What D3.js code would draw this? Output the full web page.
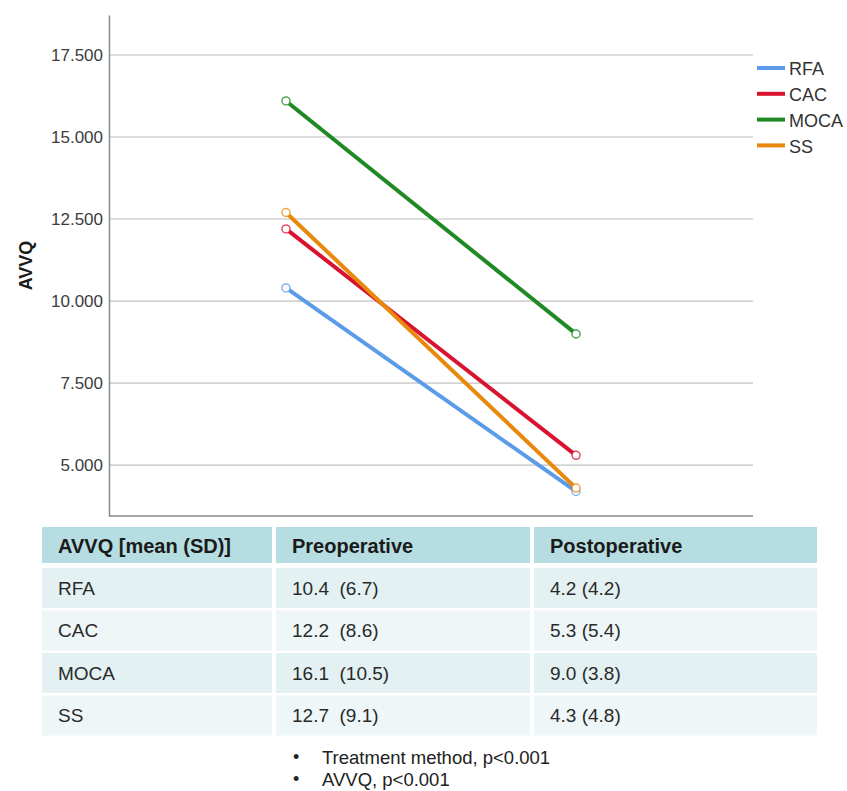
<!DOCTYPE html>
<html>
<head>
<meta charset="utf-8">
<script src="https://cdn.jsdelivr.net/npm/d3@7"></script>
<style>
  body { margin: 0; background: #fff; }
  svg { display: block; }
</style>
</head>
<body>
<div id="chart-container"></div>
<script>
// data
const groups = ["RFA", "CAC", "MOCA", "SS"];
const timepoints = ["Preoperative", "Postoperative"];
const preMeans = [10.4, 12.2, 16.1, 12.7];
const postMeans = [4.2, 5.3, 9.0, 4.3];
const preSD = [6.7, 8.6, 10.5, 9.1];
const postSD = [4.2, 5.4, 3.8, 4.8];
const yTicks = [5, 7.5, 10, 12.5, 15, 17.5];
const colors = ["#5b9be8", "#d9122f", "#1f8a24", "#e8890c"];
const notes = ["Treatment method, p<0.001", "AVVQ, p<0.001"];

const width = 847, height = 791;
const svg = d3.select("#chart-container").append("svg")
  .attr("width", width).attr("height", height);

const plot = { left: 109, right: 753, top: 15, bottom: 516 };
const axisFont = "'Liberation Sans', Arial, sans-serif";

const x = d3.scalePoint().domain(timepoints)
  .range([plot.left, plot.right]).padding(0.61);
const y = d3.scaleLinear().domain([3.45, 18.72]).range([plot.bottom, plot.top]);

// gridlines
svg.append("g").selectAll("line").data(yTicks).join("line")
  .attr("x1", plot.left).attr("x2", plot.right)
  .attr("y1", d => y(d)).attr("y2", d => y(d))
  .attr("stroke", "#d3d3d3").attr("stroke-width", 1.6);

// y axis
const yAxis = svg.append("g").attr("transform", `translate(${plot.left},0)`)
  .call(d3.axisLeft(y).tickValues(yTicks).tickFormat(d3.format(".3f")).tickSize(0).tickPadding(6));
yAxis.select(".domain").attr("stroke", "#8a8a8a").attr("stroke-width", 1.5);
yAxis.selectAll("text")
  .style("font-family", axisFont)
  .style("font-size", "17px").attr("fill", "#3c3c3c");

// bottom line
svg.append("line")
  .attr("x1", plot.left).attr("x2", plot.right)
  .attr("y1", plot.bottom).attr("y2", plot.bottom)
  .attr("stroke", "#8a8a8a").attr("stroke-width", 1.5);

svg.append("text")
  .attr("transform", `translate(32,${(plot.top + plot.bottom) / 2}) rotate(-90)`)
  .attr("text-anchor", "middle")
  .style("font-family", axisFont)
  .style("font-size", "18px").style("font-weight", "bold").attr("fill", "#1a1a1a")
  .text("AVVQ");

// lines
const series = groups.map((g, i) => ({
  name: g, color: colors[i],
  values: [{ t: timepoints[0], v: preMeans[i] }, { t: timepoints[1], v: postMeans[i] }]
}));
const line = d3.line().x(d => x(d.t)).y(d => y(d.v));

const sg = svg.append("g").selectAll("g").data(series).join("g");
sg.append("path")
  .attr("d", d => line(d.values))
  .attr("fill", "none").attr("stroke", d => d.color).attr("stroke-width", 4);
sg.selectAll("circle").data(d => d.values.map(v => ({ ...v, color: d.color }))).join("circle")
  .attr("cx", d => x(d.t)).attr("cy", d => y(d.v)).attr("r", 4)
  .attr("fill", "#fff").attr("stroke", d => d.color).attr("stroke-width", 1.5)
  .attr("stroke-opacity", 0.75);

// legend
const leg = svg.append("g").attr("transform", "translate(757,68)");
const li = leg.selectAll("g").data(series).join("g")
  .attr("transform", (d, i) => `translate(0,${i * 25.8})`);
li.append("line").attr("x1", 0).attr("x2", 28).attr("y1", 0).attr("y2", 0)
  .attr("stroke", d => d.color).attr("stroke-width", 4);
li.append("text").attr("x", 32).attr("y", 1).attr("dy", "0.36em")
  .style("font-family", axisFont)
  .style("font-size", "18px").attr("fill", "#333")
  .text(d => d.name);

// table
const colX = [42, 276, 534, 817];
const tableFont = "'Liberation Sans', Arial, sans-serif";
const header = ["AVVQ [mean (SD)]", "Preoperative", "Postoperative"];
const tbl = svg.append("g");
tbl.selectAll("rect.h").data(header).join("rect").attr("class", "h")
  .attr("x", (d, i) => colX[i]).attr("y", 527)
  .attr("width", (d, i) => colX[i + 1] - colX[i] - (i < 2 ? 4 : 0)).attr("height", 36)
  .attr("fill", "#b6dde1");
tbl.selectAll("text.h").data(header).join("text").attr("class", "h")
  .attr("x", (d, i) => colX[i] + 16).attr("y", 546).attr("dy", "0.36em")
  .style("font-family", tableFont).style("font-size", "20px").style("font-weight", "bold")
  .attr("fill", "#1a1a1a").text(d => d);

const rows = groups.map((g, i) => [g,
  `${preMeans[i].toFixed(1)}  (${preSD[i].toFixed(1)})`,
  `${postMeans[i].toFixed(1)} (${postSD[i].toFixed(1)})`]);
const rowG = tbl.selectAll("g.r").data(rows).join("g").attr("class", "r")
  .attr("transform", (d, i) => `translate(0,${568 + i * 42.5})`);
rowG.each(function (r, ri) {
  const g = d3.select(this);
  g.selectAll("rect").data(r).join("rect")
    .attr("x", (d, i) => colX[i]).attr("y", 0)
    .attr("width", (d, i) => colX[i + 1] - colX[i] - (i < 2 ? 4 : 0)).attr("height", 40)
    .attr("fill", ri % 2 === 0 ? "#e4f1f2" : "#eff6f7");
  g.selectAll("text").data(r).join("text")
    .attr("x", (d, i) => colX[i] + 16).attr("y", 20).attr("dy", "0.36em")
    .style("font-family", tableFont).style("font-size", "19px").style("white-space", "pre")
    .attr("fill", "#2a2a2a").text(d => d);
});

// notes
const ng = svg.append("g").selectAll("g").data(notes).join("g")
  .attr("transform", (d, i) => `translate(293,${757 + i * 22})`);
ng.append("text").attr("dy", "0.36em")
  .style("font-family", tableFont).style("font-size", "18px").attr("fill", "#222").text("•");
ng.append("text").attr("x", 29).attr("dy", "0.36em")
  .style("font-family", tableFont).style("font-size", "18.5px").attr("fill", "#222").text(d => d);
</script>
</body>
</html>
